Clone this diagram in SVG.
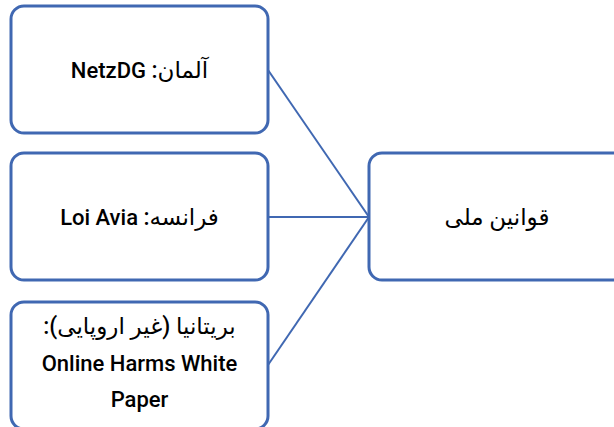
<svg xmlns="http://www.w3.org/2000/svg" width="614" height="427" viewBox="0 0 614 427">
<style>
.box{fill:#fff;stroke:#4068B2;stroke-width:3}
.ln{stroke:#4068B2;stroke-width:2;fill:none}
.t{font-family:Roboto,"DejaVu Sans",sans-serif;font-size:22px;font-weight:500;fill:#000;text-anchor:middle}
.ar{font-size:23px}
</style>
<rect width="614" height="427" fill="#fff"/>
<g id="connectors">
<line class="ln" x1="268" y1="70" x2="369" y2="217"/>
<line class="ln" x1="268" y1="217" x2="369" y2="217"/>
<line class="ln" x1="268" y1="365" x2="369" y2="217"/>
</g>
<g id="n1">
<rect class="box" x="11" y="6" width="257" height="127" rx="13"/>
<text class="t" x="139.5" y="78" direction="rtl"><tspan class="ar">آلمان:</tspan> NetzDG</text>
</g>
<g id="n2">
<rect class="box" x="11" y="153" width="257" height="127" rx="13"/>
<text class="t" x="139.5" y="225" direction="rtl"><tspan class="ar">فرانسه:</tspan> Loi Avia</text>
</g>
<g id="n3">
<rect class="box" x="11" y="302" width="257" height="127" rx="13"/>
<text class="t ar" x="139.5" y="334" direction="rtl">بریتانیا (غیر اروپایی):</text>
<text class="t" x="139.5" y="371">Online Harms White</text>
<text class="t" x="139.5" y="407">Paper</text>
</g>
<g id="n4">
<rect class="box" x="369" y="153" width="257" height="127" rx="13"/>
<text class="t ar" x="497" y="225" direction="rtl">قوانین ملی</text>
</g>
</svg>
